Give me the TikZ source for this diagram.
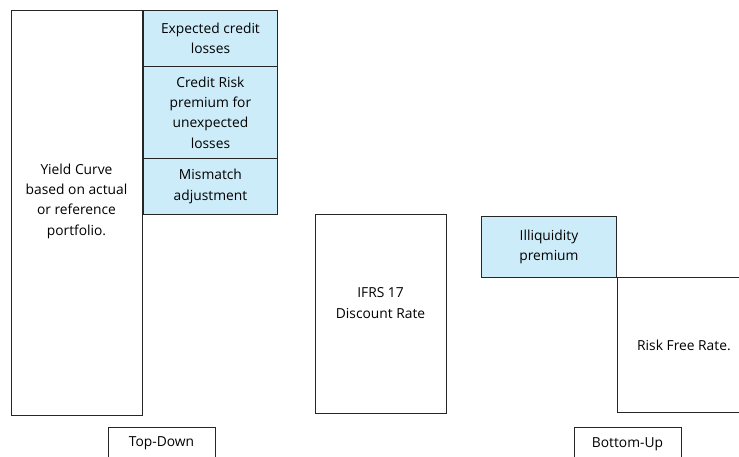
\documentclass[tikz,border=0pt]{standalone}
\usepackage{fontspec}
\setmainfont{Open Sans}
\definecolor{lblue}{RGB}{205,236,249}
\begin{document}
\begin{tikzpicture}[x=1pt,y=-1pt,
  box/.style={draw=black!85,line width=0.9pt,rectangle,inner sep=0pt,anchor=north west,align=center,font=\fontsize{13.8}{20.3}\selectfont},
  blue/.style={box,fill=lblue},
  txt/.style={align=center,font=\fontsize{13.8}{20.3}\selectfont,inner sep=0pt}]
\clip (0,0) rectangle (739,457);
\node[box,minimum width=131pt,minimum height=405pt] (yc) at (11,10) {};
\node[txt] (yct) at (76.5,201) {Yield Curve\\based on actual\\or reference\\portfolio.};
\node[blue,minimum width=134pt,minimum height=56pt] (ecl) at (143,10) {Expected credit\\losses};
\node[blue,minimum width=134pt,minimum height=92pt] (crp) at (143,66) {Credit Risk\\premium for\\unexpected\\losses};
\node[blue,minimum width=134pt,minimum height=56pt] (mm) at (143,158) {Mismatch\\adjustment};
\node[box,minimum width=131pt,minimum height=199pt] (ifrs) at (315,214) {};
\node[txt] (ifrst) at (380.5,303) {IFRS 17\\Discount Rate};
\node[blue,minimum width=135pt,minimum height=61pt] (ill) at (481,216) {Illiquidity\\premium};
\node[box,minimum width=133pt,minimum height=135pt] (rf) at (617,277) {Risk Free Rate.};
\node[box,minimum width=107pt,minimum height=40pt] (td) at (108,427) {};
\node[txt] (tdt) at (161.5,443) {Top-Down};
\node[box,minimum width=107pt,minimum height=40pt] (bu) at (574,427) {};
\node[txt] (but) at (627.5,444) {Bottom-Up};
\end{tikzpicture}
\end{document}
